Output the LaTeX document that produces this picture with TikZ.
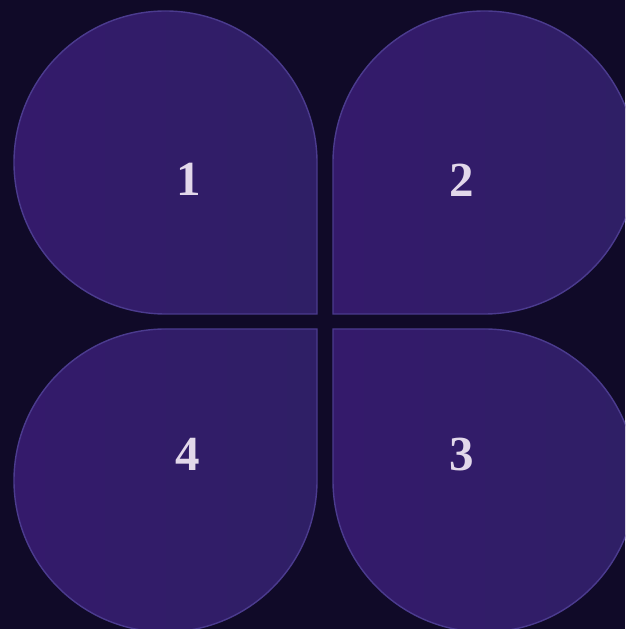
\documentclass[tikz,border=0pt]{standalone}
\usepackage{fontspec}
\setmainfont{Liberation Serif}
\usepackage{xcolor}
\definecolor{bgnight}{HTML}{100A28}
\definecolor{petalleft}{HTML}{341A6B}
\definecolor{petalright}{HTML}{2F1F66}
\definecolor{petalrim}{HTML}{4B3B8E}
\definecolor{digitcol}{HTML}{E2D8EA}

\begin{document}
\begin{tikzpicture}[x=1pt,y=1pt,
  petal/.style={draw=petalrim,line width=1.4pt,left color=petalleft,right color=petalright},
  digitlabel/.style={inner sep=0pt,text=digitcol,font=\bfseries\fontsize{49}{49}\selectfont}]
\fill[bgnight] (0,0) rectangle (625,629);
\useasboundingbox (0,0) rectangle (625,629);
\clip (0,0) rectangle (625,629);
% centre x / centre y / direction of the sharp corner
\foreach \cx/\cy/\ang in {165.5/466.5/-45, 484.5/466.5/-135, 484.5/148.5/135, 165.5/148.5/45}
  \draw[petal] ([shift={(\ang-45:151.5)}]\cx,\cy) arc[start angle=\ang-45, delta angle=-270, radius=151.5]
    -- ([shift={(\ang:214.25)}]\cx,\cy) -- cycle;
\node[digitlabel] (one) at (188.5,449.5) {1};
\node[digitlabel] (two) at (462,449) {2};
\node[digitlabel] (three) at (462,174.5) {3};
\node[digitlabel] (four) at (188,174.5) {4};
\end{tikzpicture}
\end{document}
